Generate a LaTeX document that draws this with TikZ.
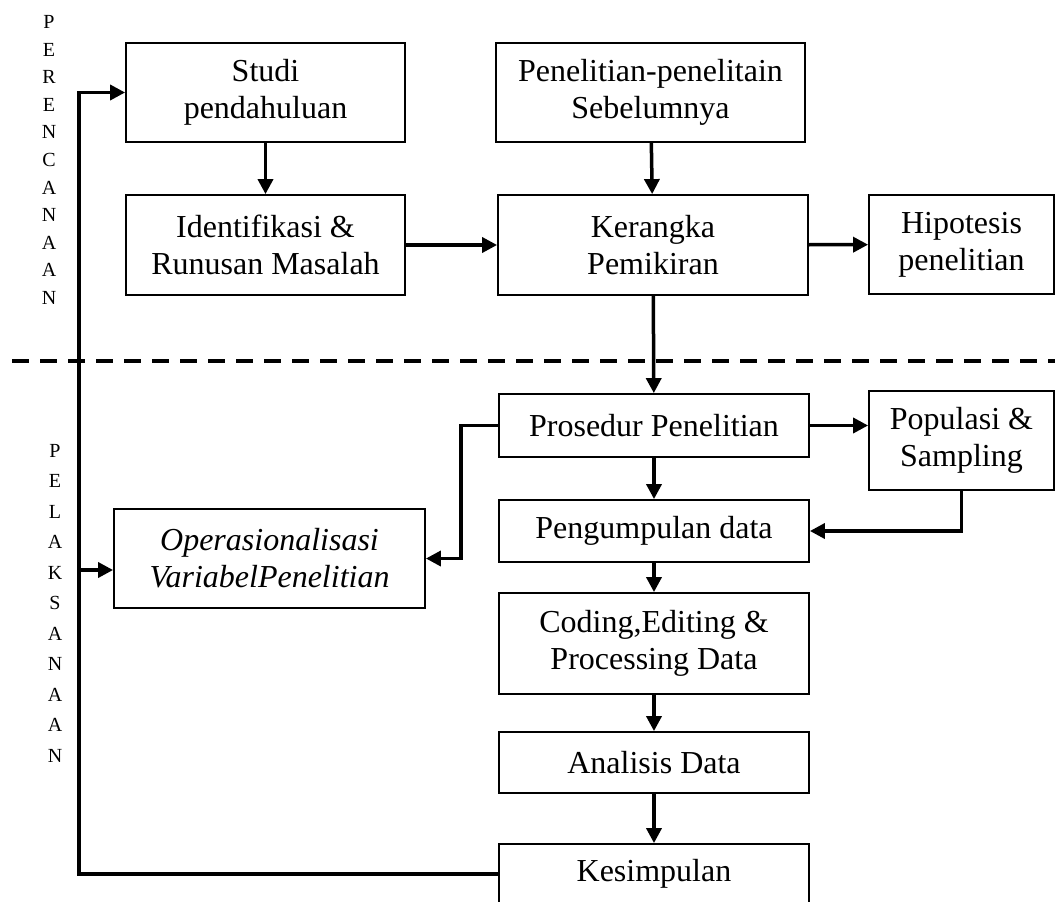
\documentclass[tikz,border=0pt]{standalone}
\usepackage{fontspec}
\setmainfont{Liberation Serif}
\usetikzlibrary{arrows.meta,positioning}

\begin{document}
\begin{tikzpicture}[x=1pt,y=-1pt,
  box/.style={draw,line width=1.8pt,align=center,inner sep=0pt,font=\fontsize{32}{37}\selectfont},
  conn/.style={line width=3.5pt,-{Triangle[length=15pt,width=15pt]}},
  wire/.style={line width=3.5pt}]
  \useasboundingbox (0,0) rectangle (1055,902);
  % phase labels
  \node[align=center,font=\fontsize{20}{27.6}\selectfont] (perLbl) at (49,160) {P\\E\\R\\E\\N\\C\\A\\N\\A\\A\\N};
  \node[align=center,font=\fontsize{20}{30.5}\selectfont] (pelLbl) at (55,603) {P\\E\\L\\A\\K\\S\\A\\N\\A\\A\\N};
  \draw[line width=4pt,dash pattern=on 16.5pt off 11.5pt] (12,361) -- (1055,361);
  % planning boxes
  \node[box,minimum width=279,minimum height=99] (studi) at (265.5,92.5) {Studi\\pendahuluan};
  \node[box,minimum width=279,minimum height=100] (idf) at (265.5,245) {Identifikasi \&\\Runusan Masalah};
  \node[box,minimum width=309,minimum height=99] (prev) at (650.5,92.5) {Penelitian-penelitain\\Sebelumnya};
  \node[box,minimum width=310,minimum height=100] (kerangka) at (653,245) {Kerangka\\Pemikiran};
  \node[box,minimum width=185,minimum height=99] (hipo) at (961.5,244.5) {Hipotesis\\penelitian};
  % execution boxes
  \node[box,minimum width=310,minimum height=63] (prosedur) at (654,425.5) {Prosedur Penelitian};
  \node[box,minimum width=185,minimum height=99] (populasi) at (961.5,440.5) {Populasi \&\\Sampling};
  \node[box,minimum width=310,minimum height=62] (kumpul) at (654,531) {Pengumpulan data};
  \node[box,minimum width=311,minimum height=99,font=\fontsize{32}{37}\selectfont\itshape] (ops) at (269.5,558.5) {Operasionalisasi\\VariabelPenelitian};
  \node[box,minimum width=310,minimum height=101] (coding) at (654,643.5) {Coding,Editing \&\\Processing Data};
  \node[box,minimum width=310,minimum height=61] (analisis) at (654,762.5) {Analisis Data};
  \node[box,minimum width=310,minimum height=60] (simpul) at (654,874) {Kesimpulan};
  % arrows
  \draw[conn] (studi) -- (idf);
  \draw[conn] (prev) -- (kerangka);
  \draw[conn] (idf) -- (kerangka);
  \draw[conn] (kerangka) -- (hipo);
  \draw[conn] (kerangka) -- (prosedur);
  \draw[conn] (prosedur) -- (populasi.west |- prosedur);
  \draw[conn] (prosedur) -- (kumpul);
  \draw[conn] (populasi.south) |- (kumpul.east);
  \draw[conn] (prosedur.west) -- ++(-37,0) |- (ops.east);
  \draw[conn] (kumpul) -- (coding);
  \draw[conn] (coding) -- (analisis);
  \draw[conn] (analisis) -- (simpul);
  % feedback loop
  \coordinate (loopB) at (79,874);
  \coordinate (loopO) at (79,570);
  \draw[conn] (simpul.west) -- (loopB) |- (studi.west);
  \draw[conn] (loopO) -- (loopO -| ops.west);
\end{tikzpicture}
\end{document}
